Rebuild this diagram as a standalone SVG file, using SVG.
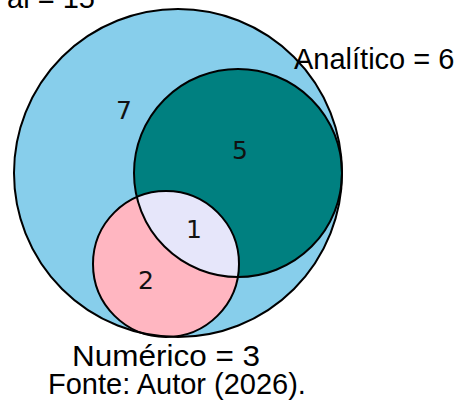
<svg xmlns="http://www.w3.org/2000/svg" width="469" height="400" viewBox="0 0 469 400">
  <style>
    .set { stroke: none; }
    .edge { fill: none; stroke: #000; stroke-width: 2; }
    .count { font-family: "DejaVu Sans", sans-serif; font-size: 25px; fill: #111; text-anchor: middle; }
    .label { font-family: "Liberation Sans", Arial, sans-serif; font-size: 29px; fill: #000; }
  </style>
  <defs>
    <clipPath id="clip-analitico">
      <circle cx="238" cy="173" r="104"/>
    </clipPath>
  </defs>

  <!-- set fills -->
  <g id="set-total">
    <circle class="set" cx="178" cy="173" r="164" fill="#87CEEB"/>
  </g>
  <g id="set-analitico">
    <circle class="set" cx="238" cy="173" r="104" fill="#008080"/>
  </g>
  <g id="set-numerico">
    <circle class="set" cx="166" cy="264" r="73" fill="#FFB6C1"/>
    <circle class="set" cx="166" cy="264" r="73" fill="#E6E6FA" clip-path="url(#clip-analitico)"/>
  </g>

  <!-- outlines -->
  <g id="outlines">
    <circle class="edge" cx="178" cy="173" r="164"/>
    <circle class="edge" cx="238" cy="173" r="104"/>
    <circle class="edge" cx="166" cy="264" r="73"/>
  </g>

  <!-- region counts -->
  <g id="counts">
    <text class="count" x="124" y="119">7</text>
    <text class="count" x="240" y="159">5</text>
    <text class="count" x="194" y="238">1</text>
    <text class="count" x="146" y="289">2</text>
  </g>

  <!-- set labels and source -->
  <g id="labels">
    <text class="label" x="95" y="8" text-anchor="end">al = 15</text>
    <text class="label" x="294" y="69">Analítico = 6</text>
    <text class="label" x="72" y="366" textLength="188" lengthAdjust="spacingAndGlyphs">Numérico = 3</text>
    <text class="label" x="48" y="394">Fonte: Autor (2026).</text>
  </g>
</svg>
